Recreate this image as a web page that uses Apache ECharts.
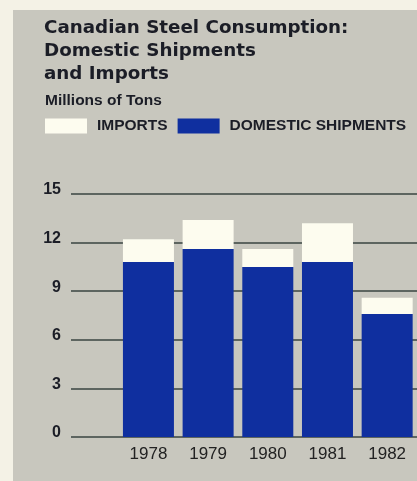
<!DOCTYPE html>
<html><head><meta charset="utf-8">
<script src="https://cdn.jsdelivr.net/npm/echarts@6/dist/echarts.min.js"></script>
<style>html,body{margin:0;padding:0;background:#f4f2e6;}#c{width:417px;height:481px;}</style>
</head><body><div id="c"></div>
<script>
const years = ['1978','1979','1980','1981','1982'];
const domestic = [10.8, 11.6, 10.5, 10.8, 7.6];
const imports = [1.4, 1.8, 1.1, 2.4, 1.0];
const yTicks = [0, 3, 6, 9, 12, 15];

const chart = echarts.init(document.getElementById('c'), null, {renderer:'canvas'});
const titleFont = '"DejaVu Sans", sans-serif';
const labFont = '"Liberation Sans", Arial, sans-serif';
chart.setOption({
  backgroundColor: '#f4f2e6',
  animation: false,
  graphic: [
    {type:'rect', shape:{x:13, y:10, width:410, height:480}, style:{fill:'#c8c7be'}, z:-10},
    {type:'text', left:44, top:17, style:{text:'Canadian Steel Consumption:\nDomestic Shipments\nand Imports', font:'bold 18.3px '+titleFont, fill:'#1b1d26', lineHeight:23}},
    {type:'text', left:45, top:93, style:{text:'Millions of Tons', font:'bold 15.5px '+labFont, fill:'#1b1d26'}}
  ],
  legend: {
    left: 45, top: 118, width: 380, padding: 0, itemWidth: 42, itemHeight: 15, itemGap: 10, icon: 'rect',
    textStyle: {fontFamily: labFont, fontWeight: 'bold', fontSize: 15.5, color: '#1b1d26', padding:[2,0,0,5]},
    data: ['IMPORTS', 'DOMESTIC SHIPMENTS']
  },
  grid: [
    {left: 71, right: 0, top: 194, bottom: 44},
    {left: 118.6, width: 301, top: 194, bottom: 44}
  ],
  xAxis: [
    {type: 'value', gridIndex: 0, show: false, min: 0, max: 1},
    {type: 'category', gridIndex: 1, data: years,
     axisLine: {show: false}, axisTick: {show: false},
     axisLabel: {fontFamily: labFont, fontSize: 17, color: '#222', margin: 9}}
  ],
  yAxis: [
    {type: 'value', gridIndex: 0, min: 0, max: 15, interval: 3,
     axisLine: {show: false}, axisTick: {show: false},
     axisLabel: {fontFamily: labFont, fontWeight: 'bold', fontSize: 16, color: '#1b1d26', margin: 10, verticalAlign: 'bottom', lineHeight: 8},
     splitLine: {lineStyle: {color: '#3a4540', width: 1.5}}},
    {type: 'value', gridIndex: 1, min: 0, max: 15, interval: 3, show: false, splitLine:{show:false}}
  ],
  series: [
    {name: 'DOMESTIC SHIPMENTS', type: 'bar', stack: 's', xAxisIndex: 1, yAxisIndex: 1,
     barWidth: 51, data: domestic, itemStyle: {color: '#0f2f9f'}},
    {name: 'IMPORTS', type: 'bar', stack: 's', xAxisIndex: 1, yAxisIndex: 1,
     barWidth: 51, data: imports, itemStyle: {color: '#fdfcef'}}
  ]
});
</script></body></html>
